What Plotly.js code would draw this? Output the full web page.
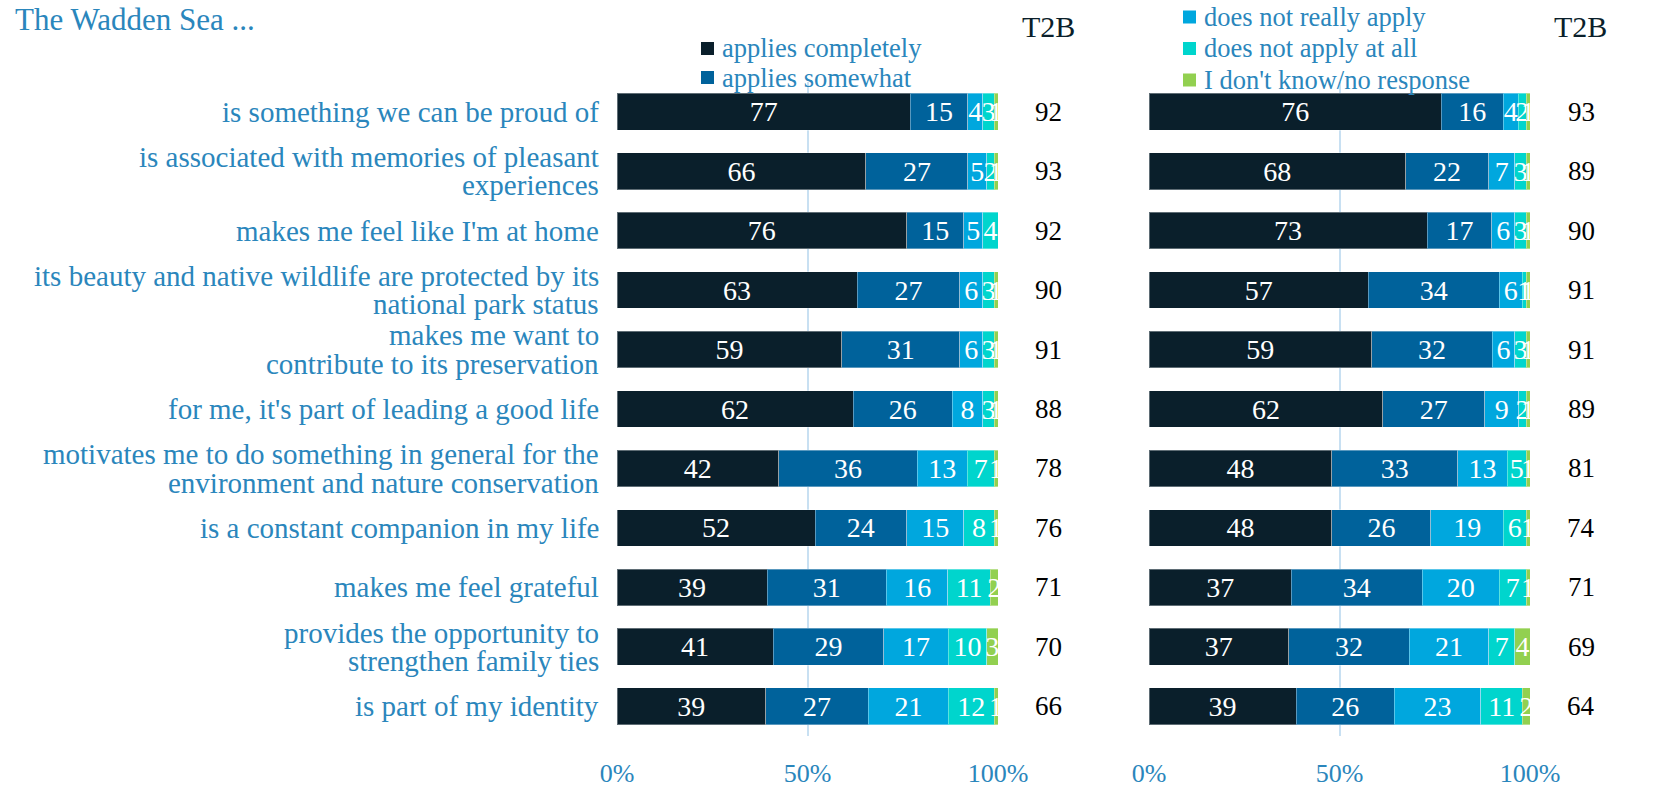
<!DOCTYPE html>
<html>
<head>
<meta charset="utf-8">
<script src="https://cdn.plot.ly/plotly-3.0.1.min.js"></script>
<style>html,body{margin:0;padding:0;background:#fff;}#chart{width:1656px;height:789px;}</style>
</head>
<body>
<div id="chart"></div>
<script>
const categories = [
  'is something we can be proud of',
  'is associated with memories of pleasant<br>experiences',
  "makes me feel like I'm at home",
  'its beauty and native wildlife are protected by its<br>national park status',
  'makes me want to<br>contribute to its preservation',
  "for me, it's part of leading a good life",
  'motivates me to do something in general for the<br>environment and nature conservation',
  'is a constant companion in my life',
  'makes me feel grateful',
  'provides the opportunity to<br>strengthen family ties',
  'is part of my identity'
];
const seriesNames = ['applies completely', 'applies somewhat', 'does not really apply', 'does not apply at all', "I don't know/no response"];
const seriesColors = ['#0a1f2b', '#00629b', '#00a7de', '#00d5cd', '#92d050'];

// left panel
const completelyA = [77, 66, 76, 63, 59, 62, 42, 52, 39, 41, 39];
const somewhatA   = [15, 27, 15, 27, 31, 26, 36, 24, 31, 29, 27];
const notReallyA  = [4, 5, 5, 6, 6, 8, 13, 15, 16, 17, 21];
const notAtAllA   = [3, 2, 4, 3, 3, 3, 7, 8, 11, 10, 12];
const dontKnowA   = [1, 1, 0, 1, 1, 1, 1, 1, 2, 3, 1];
const t2bA        = [92, 93, 92, 90, 91, 88, 78, 76, 71, 70, 66];

// right panel
const completelyB = [76, 68, 73, 57, 59, 62, 48, 48, 37, 37, 39];
const somewhatB   = [16, 22, 17, 34, 32, 27, 33, 26, 34, 32, 26];
const notReallyB  = [4, 7, 6, 6, 6, 9, 13, 19, 20, 21, 23];
const notAtAllB   = [2, 3, 3, 1, 3, 2, 5, 6, 7, 7, 11];
const dontKnowB   = [1, 1, 1, 1, 1, 1, 1, 1, 1, 4, 2];
const t2bB        = [93, 89, 90, 91, 91, 89, 81, 74, 71, 69, 64];

const tickVals = [0, 50, 100];
const tickText = ['0%', '50%', '100%'];
const t2bHeader = 'T2B';
const titleText = 'The Wadden Sea ...';

const W = 1656, H = 789;
const px = x => x / W;
const py = y => 1 - y / H;
const FONT = 'Liberation Serif, Times New Roman, serif';
const BLUE = '#2a86bc';

const panelA = [completelyA, somewhatA, notReallyA, notAtAllA, dontKnowA];
const panelB = [completelyB, somewhatB, notReallyB, notAtAllB, dontKnowB];
const yIdx = categories.map((c, i) => i);

const traces = [];
function addPanel(series, xaxis) {
  series.forEach((vals, k) => {
    traces.push({
      type: 'bar', orientation: 'h',
      x: vals, y: yIdx,
      xaxis: xaxis, yaxis: 'y',
      name: seriesNames[k],
      showlegend: false,
      marker: { color: seriesColors[k], line: { color: 'rgba(255,255,255,0.35)', width: 1 } },
      text: vals.map(v => v > 0 ? String(v) : ''),
      textposition: 'inside',
      insidetextanchor: 'middle',
      textangle: 0,
      constraintext: 'none',
      cliponaxis: false,
      textfont: { family: FONT, size: 28, color: '#ffffff' },
      hoverinfo: 'x+name'
    });
  });
}
addPanel(panelA, 'x');
addPanel(panelB, 'x2');

const annotations = [];
// category labels (tight line spacing, one annotation per line)
categories.forEach((c, i) => {
  const lines = c.split('<br>');
  lines.forEach((ln, j) => {
    annotations.push({
      xref: 'paper', yref: 'y', x: px(601), y: i,
      xanchor: 'right', yanchor: 'middle',
      yshift: ((lines.length - 1) / 2 - j) * 28.3,
      text: ln, showarrow: false,
      font: { family: FONT, size: 29, color: BLUE }
    });
  });
});
// T2B values
t2bA.forEach((v, i) => annotations.push({
  xref: 'paper', yref: 'y', x: px(1048), y: i, xanchor: 'center', yanchor: 'middle',
  text: String(v), showarrow: false, font: { family: FONT, size: 27, color: '#000000' }
}));
t2bB.forEach((v, i) => annotations.push({
  xref: 'paper', yref: 'y', x: px(1581), y: i, xanchor: 'center', yanchor: 'middle',
  text: String(v), showarrow: false, font: { family: FONT, size: 27, color: '#000000' }
}));
// T2B headers
[1048, 1580].forEach(xx => annotations.push({
  xref: 'paper', yref: 'paper', x: px(xx), y: py(26), xanchor: 'center', yanchor: 'middle',
  text: t2bHeader, showarrow: false, font: { family: FONT, size: 30, color: '#0b1f2b' }
}));
// title
annotations.push({
  xref: 'paper', yref: 'paper', x: px(13), y: 1, xanchor: 'left', yanchor: 'top',
  text: titleText, showarrow: false, font: { family: FONT, size: 31, color: BLUE }
});

// manual legend
const shapes = [];
const legendPos = [
  { x: 701, y: 48.5 }, { x: 701, y: 77.5 },
  { x: 1183, y: 17 }, { x: 1183, y: 48.5 }, { x: 1183, y: 80 }
];
seriesNames.forEach((nm, k) => {
  const p = legendPos[k];
  shapes.push({
    type: 'rect', xref: 'paper', yref: 'paper',
    x0: px(p.x), x1: px(p.x + 13), y0: py(p.y + 6.5), y1: py(p.y - 6.5),
    fillcolor: seriesColors[k], line: { width: 0 }
  });
  annotations.push({
    xref: 'paper', yref: 'paper', x: px(p.x + 19), y: py(p.y), xanchor: 'left', yanchor: 'middle',
    text: nm, showarrow: false, font: { family: FONT, size: 26.5, color: BLUE }
  });
});

const xaxisBase = {
  range: [0, 100], tickvals: tickVals, ticktext: tickText,
  showgrid: true, gridcolor: '#c8e0f2', gridwidth: 2,
  zeroline: false, showline: false, ticks: '',
  ticklabelstandoff: 19,
  tickfont: { family: FONT, size: 26, color: BLUE },
  anchor: 'y', fixedrange: true
};

const layout = {
  width: W, height: H,
  margin: { l: 0, r: 0, t: 0, b: 0 },
  paper_bgcolor: '#ffffff', plot_bgcolor: 'rgba(0,0,0,0)',
  barmode: 'stack', barnorm: 'percent', bargap: 0.383,
  showlegend: false,
  xaxis: Object.assign({}, xaxisBase, { domain: [px(617), px(998)] }),
  xaxis2: Object.assign({}, xaxisBase, { domain: [px(1149), px(1530)] }),
  yaxis: {
    domain: [py(736), py(82)],
    range: [categories.length - 0.5, -0.5],
    showticklabels: false, showgrid: false, zeroline: false, ticks: '', fixedrange: true
  },
  annotations: annotations,
  shapes: shapes,
  font: { family: FONT }
};

Plotly.newPlot('chart', traces, layout, { displayModeBar: false, staticPlot: true });
</script>
</body>
</html>
